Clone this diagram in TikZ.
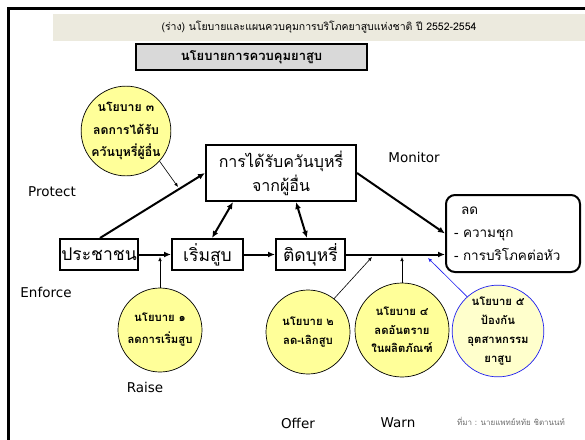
\documentclass[tikz,border=0pt]{standalone}
\usepackage{fontspec}
\setmainfont{DejaVu Sans}
\newfontfamily\thai[Script=Thai]{Loma}
\usetikzlibrary{arrows.meta}
\definecolor{bandbg}{RGB}{236,234,222}
\definecolor{headbg}{RGB}{217,217,217}
\definecolor{yel}{RGB}{255,255,153}
\definecolor{yellt}{RGB}{255,255,204}
\definecolor{bluel}{RGB}{30,30,240}
\definecolor{srcgray}{RGB}{110,110,110}
\tikzset{
  flowbox/.style={draw, line width=2pt, inner sep=1pt, font=\thai\fontsize{17.5}{20}\selectfont},
  pcirc/.style={circle, draw, line width=0.7pt, fill=yel, inner sep=0pt, align=center, font=\thai\bfseries\fontsize{11.3}{19}\selectfont},
  thick arr/.style={line width=2pt, -{Latex[length=7pt,width=6pt]}},
  dbl arr/.style={line width=2pt, {Latex[length=7pt,width=6pt]}-{Latex[length=7pt,width=6pt]}},
  thin arr/.style={line width=0.6pt, -{Latex[length=4pt,width=3.5pt]}},
  lbl/.style={font=\fontsize{13.5}{15}\selectfont}
}
\begin{document}
\begin{tikzpicture}[x=1pt,y=-1pt]
\useasboundingbox (0,0) rectangle (585,439);
\fill[white] (0,0) rectangle (585,439);
\draw[line width=3pt] (8,441) -- (8,8) -- (587,8);

\node[fill=bandbg, minimum width=532pt, minimum height=27pt, inner sep=0pt,
      font=\thai\fontsize{10.5}{13}\selectfont] (band) at (319,27.5)
      {(ร่าง) นโยบายและแผนควบคุมการบริโภคยาสูบแห่งชาติ ปี 2552-2554};
\node[fill=headbg, draw, line width=1.2pt, minimum width=231pt, minimum height=26pt, inner sep=0pt,
      font=\thai\bfseries\fontsize{13}{16}\selectfont] (head) at (251.5,57) {นโยบายการควบคุมยาสูบ};

\node[flowbox, minimum width=150pt, minimum height=56pt, align=center,
      font=\thai\fontsize{16}{24}\selectfont] (expo) at (281,173) {การได้รับควันบุหรี่\\จากผู้อื่น};
\node[flowbox, minimum width=72pt, minimum height=31pt] (pub) at (99,254.5) {ประชาชน};
\node[flowbox, minimum width=71pt, minimum height=31pt] (start) at (207.5,254.5) {เริ่มสูบ};
\node[flowbox, minimum width=69pt, minimum height=31pt] (addict) at (310.5,254.5) {ติดบุหรี่};
\node[draw, line width=2pt, rounded corners=9pt, minimum width=134pt, minimum height=77pt,
      align=left, text width=118pt, inner sep=0pt,
      font=\thai\fontsize{13.5}{23}\selectfont] (reduce) at (513,233.5)
      {\hspace*{7pt}ลด\\- ความชุก\\- การบริโภคต่อหัว};

\node[pcirc, minimum size=88pt, font=\thai\bfseries\fontsize{12.3}{22.5}\selectfont] (p3) at (126,131)
      {นโยบาย ๓\\ลดการได้รับ\\ควันบุหรี่ผู้อื่น};
\node[pcirc, minimum size=84pt, font=\thai\bfseries\fontsize{11.3}{22}\selectfont] (p1) at (160,330)
      {นโยบาย ๑\\ลดการเริ่มสูบ};
\node[pcirc, minimum size=84pt] (p2) at (308,332) {นโยบาย ๒\\ลด-เลิกสูบ};
\node[pcirc, minimum size=94pt, font=\thai\bfseries\fontsize{11.3}{18.5}\selectfont] (p4) at (402,330)
      {นโยบาย ๔\\ลดอันตราย\\ในผลิตภัณฑ์};
\node[pcirc, draw=bluel, fill=yellt, minimum size=88pt] (p5) at (498,331)
      {นโยบาย ๕\\ป้องกัน\\อุตสาหกรรม\\ยาสูบ};

\node[lbl] (lmon) at (414,157) {Monitor};
\node[lbl] (lpro) at (52,192) {Protect};
\node[lbl] (lenf) at (46,292) {Enforce};
\node[lbl] (lrai) at (145,387) {Raise};
\node[lbl] (loff) at (298,423) {Offer};
\node[lbl] (lwar) at (398,423) {Warn};
\node[text=srcgray, font=\thai\fontsize{8}{10}\selectfont] (src) at (511,421) {ที่มา : นายแพทย์หทัย ชิตานนท์};

\coordinate (k3) at (178,187);
\coordinate (k1) at (160,257);
\coordinate (k2) at (372,257);
\coordinate (k4) at (402,257);
\coordinate (k5) at (428,258);

\draw[thick arr] (pub) -- (start);
\draw[thick arr] (start) -- (addict);
\draw[thick arr] (addict.east) -- (reduce.west |- addict.east);
\draw[thick arr] ([xshift=1pt]pub.north) -- (expo.west);
\draw[thick arr] (expo.east) -- (reduce.west);
\draw[dbl arr] ([xshift=4.5pt]start.north) -- ([xshift=-48pt]expo.south);
\draw[dbl arr] ([xshift=-3.5pt]addict.north) -- ([xshift=15pt]expo.south);

\draw[thin arr] (p3.-42) -- (k3);
\draw[thin arr] (p1.north) -- (k1);
\draw[thin arr] (p2.52) -- (k2);
\draw[thin arr] (p4.north) -- (k4);
\draw[thin arr, draw=bluel] (p5.132) -- (k5);
\end{tikzpicture}
\end{document}
